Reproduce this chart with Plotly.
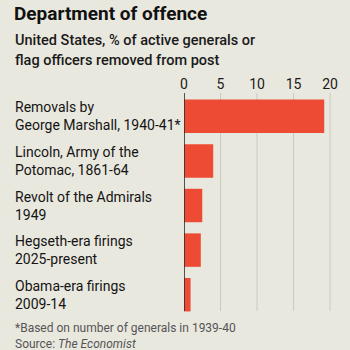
import plotly.graph_objects as go

categories = [
    "Removals by<br>George Marshall, 1940-41*",
    "Lincoln, Army of the<br>Potomac, 1861-64",
    "Revolt of the Admirals<br>1949",
    "Hegseth-era firings<br>2025-present",
    "Obama-era firings<br>2009-14",
]
values = [19.2, 4.0, 2.5, 2.3, 0.9]
tick_vals = [0, 5, 10, 15, 20]

BG = "#E9E8DF"
RED = "#EE4B35"
FONT = "Roboto"

W, H = 350, 350
L, R, T, B = 184, 17, 94, 33
pw, ph = W - L - R, H - T - B

def px(x):
    return (x - L) / pw

def py(y):
    return (H - B - y) / ph

fig = go.Figure()
fig.add_trace(go.Bar(
    x=values, y=list(range(len(categories))), orientation="h",
    marker=dict(color=RED, line=dict(width=0)), width=0.75,
    hoverinfo="skip",
))

# gridlines
for v in tick_vals[1:]:
    fig.add_shape(type="line", xref="x", yref="paper", x0=v, x1=v,
                  y0=py(311), y1=py(93), line=dict(color="#CBCAC2", width=1), layer="below")
fig.add_shape(type="line", xref="x", yref="paper", x0=0, x1=0,
              y0=py(311), y1=py(93), line=dict(color="#2B2B2B", width=1.6), layer="above")

# category labels (left aligned)
for i, c in enumerate(categories):
    fig.add_annotation(x=px(13), xref="paper", y=i, yref="y", xanchor="left", yanchor="middle",
                       text=c, align="left", showarrow=False,
                       font=dict(family=FONT, size=14, color="#141414"))

fig.add_annotation(x=px(12), xref="paper", y=py(13), yref="paper", xanchor="left", yanchor="middle",
                   text="<b>Department of offence</b>", showarrow=False,
                   font=dict(family=FONT, size=19, color="#111111"))
fig.add_annotation(x=px(13), xref="paper", y=py(41), yref="paper", xanchor="left", yanchor="middle",
                   text="United States, % of active generals or", showarrow=False,
                   font=dict(family=FONT, size=14.5, color="#1A1A1A", weight=500))
fig.add_annotation(x=px(13), xref="paper", y=py(60), yref="paper", xanchor="left", yanchor="middle",
                   text="flag officers removed from post", showarrow=False,
                   font=dict(family=FONT, size=14.5, color="#1A1A1A", weight=500))
fig.add_annotation(x=px(13), xref="paper", y=py(328), yref="paper", xanchor="left", yanchor="middle",
                   text="*Based on number of generals in 1939-40", showarrow=False,
                   font=dict(family=FONT, size=12, color="#555555"))
fig.add_annotation(x=px(13), xref="paper", y=py(344), yref="paper", xanchor="left", yanchor="middle",
                   text="Source: <i>The Economist</i>", showarrow=False,
                   font=dict(family=FONT, size=12, color="#555555"))

fig.update_layout(
    width=W, height=H,
    margin=dict(l=L, r=R, t=T, b=B),
    paper_bgcolor=BG, plot_bgcolor=BG,
    showlegend=False,
    xaxis=dict(range=[0, 20.4], side="top", tickvals=tick_vals, showgrid=False, zeroline=False,
               showline=False, ticks="", ticklabelstandoff=1,
               tickfont=dict(family=FONT, size=14, color="#1A1A1A"),
               fixedrange=True),
    yaxis=dict(range=[len(categories) - 0.5, -0.5], showticklabels=False, showgrid=False,
               zeroline=False, showline=False, ticks="", fixedrange=True),
)
fig.write_html("out.html")
